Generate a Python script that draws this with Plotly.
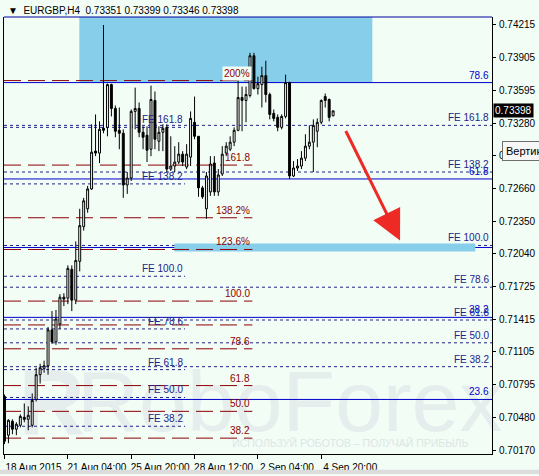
import plotly.graph_objects as go

FONT = "Liberation Sans, Arial, sans-serif"
BG = "#F2FDF6"
RED = "#8B0000"
NAVY = "#22228A"
BLUE = "#0000CC"
SKY = "#87CEEB"

# EURGBP H4 candles (bar 0 = 18 Aug 12:00)
OPEN = [0.70680, 0.70312, 0.70444, 0.70369, 0.70406, 0.70482, 0.70463, 0.70406, 0.70652, 0.70888,
        0.70945, 0.70973, 0.71314, 0.71200, 0.71370, 0.71625, 0.71616, 0.71890, 0.71597, 0.71966,
        0.72296, 0.72466, 0.72655, 0.73015, 0.72996, 0.73232, 0.73241, 0.73648, 0.73421, 0.73213,
        0.73185, 0.72693, 0.72759, 0.73393, 0.73421, 0.73194, 0.73166, 0.73033, 0.73497, 0.73109,
        0.73194, 0.73241, 0.72844, 0.72873, 0.72911, 0.72986, 0.72863, 0.72958, 0.73289, 0.73156,
        0.72665, 0.72466, 0.72627, 0.72901, 0.72627, 0.72797, 0.72996, 0.73033, 0.73100, 0.73213,
        0.73525, 0.73497, 0.73544, 0.73922, 0.73610, 0.73648, 0.73733, 0.73553, 0.73374, 0.73336,
        0.73241, 0.73345, 0.73667, 0.72778, 0.72854, 0.72873, 0.72948, 0.73062, 0.73100, 0.73204,
        0.73289, 0.73534, 0.73506, 0.73351]
HIGH = [0.70699, 0.70463, 0.70463, 0.70435, 0.70510, 0.70614, 0.70586, 0.70709, 0.70954, 0.70992,
        0.71021, 0.71342, 0.71493, 0.71503, 0.71654, 0.71663, 0.71928, 0.71928, 0.72155, 0.72466,
        0.72570, 0.72684, 0.73270, 0.73364, 0.73298, 0.74215, 0.73657, 0.73657, 0.73449, 0.73430,
        0.73222, 0.72816, 0.73411, 0.73619, 0.73478, 0.73251, 0.73251, 0.73638, 0.73582, 0.73251,
        0.73270, 0.73270, 0.73156, 0.73062, 0.73100, 0.73015, 0.73081, 0.73393, 0.73534, 0.73156,
        0.72684, 0.72816, 0.72967, 0.72967, 0.72844, 0.73062, 0.73100, 0.73156, 0.73241, 0.73761,
        0.73629, 0.73629, 0.73950, 0.73950, 0.73723, 0.73818, 0.73875, 0.73572, 0.73411, 0.73364,
        0.73364, 0.73742, 0.73676, 0.72920, 0.72939, 0.73015, 0.73175, 0.73260, 0.73317, 0.73326,
        0.73506, 0.73563, 0.73515, 0.73399]
LOW = [0.70227, 0.70236, 0.70321, 0.70312, 0.70387, 0.70435, 0.70359, 0.70387, 0.70633, 0.70803,
       0.70907, 0.70888, 0.71181, 0.71172, 0.71323, 0.71540, 0.71559, 0.71493, 0.71559, 0.71871,
       0.72259, 0.72429, 0.72646, 0.72967, 0.72901, 0.73185, 0.73156, 0.73345, 0.73147, 0.73033,
       0.72570, 0.72608, 0.72731, 0.73222, 0.73147, 0.73033, 0.72911, 0.72967, 0.73033, 0.73015,
       0.73015, 0.72816, 0.72826, 0.72816, 0.72892, 0.72873, 0.72844, 0.72873, 0.73128, 0.72580,
       0.72561, 0.72372, 0.72589, 0.72589, 0.72589, 0.72778, 0.72967, 0.73015, 0.73062, 0.73204,
       0.73204, 0.73289, 0.73525, 0.73600, 0.73553, 0.73430, 0.73478, 0.73317, 0.73298, 0.73204,
       0.73222, 0.73326, 0.72750, 0.72769, 0.72826, 0.72844, 0.72920, 0.73033, 0.72816, 0.73052,
       0.73270, 0.73430, 0.73298, 0.73346]
CLOSE = [0.70255, 0.70454, 0.70369, 0.70416, 0.70491, 0.70463, 0.70501, 0.70643, 0.70888, 0.70954,
         0.70973, 0.71314, 0.71200, 0.71418, 0.71625, 0.71607, 0.71899, 0.71597, 0.71975, 0.72306,
         0.72542, 0.72655, 0.73005, 0.72996, 0.73222, 0.73213, 0.73648, 0.73421, 0.73204, 0.73185,
         0.72693, 0.72759, 0.73393, 0.73421, 0.73194, 0.73147, 0.73024, 0.73506, 0.73128, 0.73194,
         0.73232, 0.72844, 0.72873, 0.72911, 0.72986, 0.72911, 0.72986, 0.73326, 0.73156, 0.72665,
         0.72580, 0.72778, 0.72892, 0.72627, 0.72788, 0.72986, 0.73062, 0.73100, 0.73213, 0.73525,
         0.73497, 0.73553, 0.73922, 0.73610, 0.73657, 0.73733, 0.73553, 0.73364, 0.73326, 0.73241,
         0.73345, 0.73667, 0.72778, 0.72854, 0.72873, 0.72948, 0.73062, 0.73100, 0.73260, 0.73289,
         0.73497, 0.73497, 0.73336, 0.73398]
BARS = list(range(len(OPEN)))

DATE_TICKS = [0, 16, 32, 48, 64, 80]
DATE_LABELS = ["18 Aug 2015", "21 Aug 04:00", "25 Aug 20:00", "28 Aug 12:00", "2 Sep 04:00", "4 Sep 20:00"]
PRICE_TICKS = [0.74215, 0.73905, 0.73595, 0.73280, 0.72970, 0.72660, 0.72350,
               0.72040, 0.71725, 0.71415, 0.71105, 0.70795, 0.70480, 0.70170]

# fibo expansion, dark red dashes
EXP_LABELS = ["200%", "161.8", "138.2%", "123.6%", "100.0", "", "78.6", "61.8", "50.0", "38.2"]
EXP_PRICES = [0.73686, 0.72882, 0.72381, 0.72079, 0.71588, 0.71361, 0.71134, 0.70784, 0.70539, 0.70284]
# fibo retracement, blue solid
RET_LABELS = ["78.6", "61.8", "", "38.2", "23.6"]
RET_PRICES = [0.73667, 0.72750, 0.72098, 0.71433, 0.70652]
# two FE sets, navy dots
FE_LABELS = ["FE 161.8", "FE 138.2", "FE 100.0", "FE 78.6", "FE 61.8", "FE 50.0", "FE 38.2"]
FE_RIGHT = [0.73260, 0.72816, 0.72117, 0.71720, 0.71408, 0.71191, 0.70964]
FE_LEFT = [0.73241, 0.72703, 0.71824, 0.71323, 0.70936, 0.70671, 0.70397]

X_RANGE = [-0.125, 123.125]
Y_RANGE = [0.70133, 0.74291]
EXP_END = 62.6       # bar where the red levels stop
FE_LEFT_END = 45.6   # bar where the left FE set stops
ZONE_TOP = (18.9, 92.9)          # sky box above the 78.6 level
ZONE_TARGET = (42.9, 118.9, 0.72060, 0.72136)
ARROW_TIP = (99.9, 0.72164)

fig = go.Figure()

fig.add_trace(go.Candlestick(
    x=BARS, open=OPEN, high=HIGH, low=LOW, close=CLOSE,
    increasing=dict(line=dict(color="black", width=1), fillcolor="white"),
    decreasing=dict(line=dict(color="black", width=1), fillcolor="black"),
    whiskerwidth=0, hoverinfo="skip", showlegend=False,
))

shapes = []
# watermark first so everything sits on top of it
shapes.append(dict(type="rect", xref="paper", yref="paper", x0=0.02, x1=0.176, y0=0.045, y1=0.232,
                   line=dict(width=0), fillcolor="rgba(0,0,0,0)", layer="below",
                   label=dict(text="<b>R</b>", font=dict(size=92, color="#E6EEED", family=FONT))))
shapes.append(dict(type="rect", xref="paper", yref="paper", x0=0.197, x1=0.974, y0=0.045, y1=0.232,
                   line=dict(width=0), fillcolor="rgba(0,0,0,0)", layer="below",
                   label=dict(text="RoboForex", font=dict(size=86, color="#E6EEED", family=FONT))))
shapes.append(dict(type="rect", xref="paper", yref="paper", x0=0.456, x1=0.963, y0=0.014, y1=0.04,
                   line=dict(width=0), fillcolor="rgba(0,0,0,0)", layer="below",
                   label=dict(text="ИСПОЛЬЗУЙ РОБОТОВ – ПОЛУЧАЙ ПРИБЫЛЬ",
                              font=dict(size=10.5, color="#DDE6E5", family=FONT))))

shapes.append(dict(type="rect", xref="x", yref="paper", x0=ZONE_TOP[0], x1=ZONE_TOP[1],
                   y0=(RET_PRICES[0] - Y_RANGE[0]) / (Y_RANGE[1] - Y_RANGE[0]), y1=1,
                   line=dict(width=0), fillcolor=SKY, layer="below"))
shapes.append(dict(type="rect", xref="x", yref="y", x0=ZONE_TARGET[0], x1=ZONE_TARGET[1],
                   y0=ZONE_TARGET[2], y1=ZONE_TARGET[3],
                   line=dict(width=0), fillcolor=SKY, layer="below"))

for p in RET_PRICES:
    shapes.append(dict(type="line", xref="paper", yref="y", x0=0, x1=1, y0=p, y1=p,
                       line=dict(color=BLUE, width=1), layer="below"))
for p in FE_RIGHT:
    shapes.append(dict(type="line", xref="paper", yref="y", x0=0, x1=1, y0=p, y1=p,
                       line=dict(color=NAVY, width=1, dash="3px,3px"), layer="below"))
for p in FE_LEFT:
    shapes.append(dict(type="line", xref="x", yref="y", x0=X_RANGE[0], x1=FE_LEFT_END, y0=p, y1=p,
                       line=dict(color=NAVY, width=1, dash="3px,3px"), layer="below"))
for p in EXP_PRICES:
    shapes.append(dict(type="line", xref="x", yref="y", x0=X_RANGE[0], x1=EXP_END, y0=p, y1=p,
                       line=dict(color=RED, width=1, dash="17px,7px"), layer="below"))

# frame: blue top edge, grey window strip at the bottom
shapes.append(dict(type="line", xref="paper", yref="paper", x0=0, x1=1, y0=1, y1=1,
                   line=dict(color="#0000A0", width=1)))
shapes.append(dict(type="rect", xref="paper", yref="paper", x0=-0.01, x1=1.1, y0=-0.046, y1=-0.036,
                   line=dict(width=0), fillcolor="#DCDCDC"))

ann = []
lab = dict(family=FONT, size=10)
for t, p in zip(EXP_LABELS, EXP_PRICES):
    if t:
        ann.append(dict(x=EXP_END, y=p, xref="x", yref="y", text=t, showarrow=False,
                        xanchor="right", yanchor="bottom", font=dict(lab, color=RED),
                        bgcolor=BG if t == "200%" else None))
for t, p in zip(RET_LABELS, RET_PRICES):
    if t:
        ann.append(dict(x=1, y=p, xref="paper", yref="y", text=t, showarrow=False, xshift=-1,
                        xanchor="right", yanchor="bottom", font=dict(lab, color=BLUE)))
for t, p in zip(FE_LABELS, FE_RIGHT):
    ann.append(dict(x=1, y=p, xref="paper", yref="y", text=t, showarrow=False, xshift=-1,
                    xanchor="right", yanchor="bottom", font=dict(lab, color=NAVY)))
for t, p in zip(FE_LABELS, FE_LEFT):
    ann.append(dict(x=FE_LEFT_END, y=p, xref="x", yref="y", text=t, showarrow=False,
                    xanchor="right", yanchor="bottom", font=dict(lab, color=NAVY)))

# red forecast arrow
ann.append(dict(x=ARROW_TIP[0], y=ARROW_TIP[1], xref="x", yref="y", ax=-55, ay=-111,
                showarrow=True, arrowhead=2, arrowsize=2, arrowwidth=3, arrowcolor="#EE2A24", text=""))

# last price tag
ann.append(dict(x=1, y=CLOSE[-1], xref="paper", yref="y", text=f"{CLOSE[-1]:.5f}", showarrow=False,
                xanchor="left", yanchor="middle", xshift=1, bgcolor="black", borderpad=1,
                font=dict(family=FONT, size=10, color="white")))
# tooltip of a vertical line, cut off by the window edge
ann.append(dict(x=1.0203, y=0.73019, xref="paper", yref="y", text="Вертикальная линия", showarrow=False,
                xanchor="left", yanchor="middle", bgcolor="#F7F7F7", bordercolor="#6E6E6E",
                borderwidth=1, borderpad=3, font=dict(family=FONT, size=11, color="black")))
# header
ann.append(dict(x=0.004, y=1.016, xref="paper", yref="paper", xanchor="left", yanchor="middle",
                showarrow=False, font=dict(family=FONT, size=10, color="black"),
                text=f"▼  EURGBP,H4  {OPEN[-1]:.5f} {HIGH[-1]:.5f} {LOW[-1]:.5f} {CLOSE[-1]:.5f}"))

fig.update_layout(
    width=539, height=476,
    margin=dict(l=3, r=43, t=17, b=19),
    paper_bgcolor=BG, plot_bgcolor=BG,
    showlegend=False,
    shapes=shapes, annotations=ann,
    font=dict(family=FONT, size=10, color="black"),
    xaxis=dict(range=X_RANGE, rangeslider=dict(visible=False), showgrid=False, zeroline=False,
               showline=True, linecolor="black", linewidth=1, ticks="outside", ticklen=4,
               tickcolor="black", tickvals=DATE_TICKS, ticktext=DATE_LABELS,
               ticklabelshift=29, ticklabelstandoff=0, tickfont=dict(size=10)),
    yaxis=dict(range=Y_RANGE, side="right", showgrid=False, zeroline=False,
               showline=True, mirror=True, linecolor="black", linewidth=1, ticks="outside",
               ticklen=3, tickcolor="black", tickvals=PRICE_TICKS,
               ticktext=[f"{v:.5f}" for v in PRICE_TICKS], ticklabelstandoff=1, tickfont=dict(size=10)),
)

# the page body has an 8px default margin; drop it so the chart sits at the window's corner
fig.write_html("out.html", config={"displayModeBar": False},
               post_script="document.body.style.margin='0';")
